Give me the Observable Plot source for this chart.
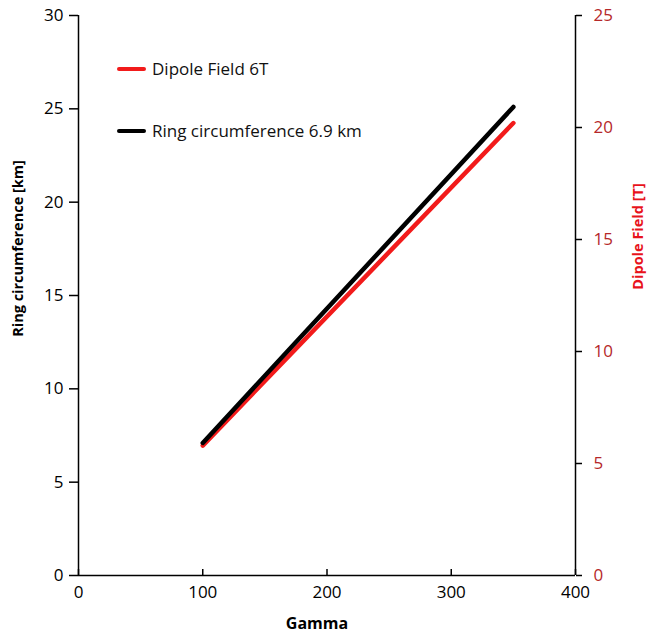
<!DOCTYPE html>
<html><head><meta charset="utf-8">
<script src="https://cdn.jsdelivr.net/npm/d3@7"></script>
<script src="https://cdn.jsdelivr.net/npm/@observablehq/plot@0.6"></script>
<style>
body{margin:0;background:#fff;font-family:"Open Sans",sans-serif;}
#wrap{position:relative;width:650px;height:640px;}
.leg{position:absolute;left:117px;display:flex;align-items:center;font-size:17px;color:#111;line-height:20px;}
.leg .sw{display:inline-block;width:29px;height:4px;border-radius:2px;margin-right:6px;}
</style></head>
<body><div id="wrap"></div>
<script>
const gamma = [100, 350];
const circumferenceKm = [7.1, 25.1];
const dipoleFieldT = [5.8, 20.2];
const xTicks = [0, 100, 200, 300, 400];
const leftTicks = [0, 5, 10, 15, 20, 25, 30];
const rightTicks = [0, 5, 10, 15, 20, 25];
const seriesNames = ["Dipole Field 6T", "Ring circumference 6.9 km"];
const seriesColors = ["#f21b1b", "#000000"];
const leftMax = 30, rightMax = 25;
const k = leftMax / rightMax;

const ring = gamma.map((g, i) => ({g, v: circumferenceKm[i]}));
const dipole = gamma.map((g, i) => ({g, v: dipoleFieldT[i] * k}));

const chart = Plot.plot({
  width: 650, height: 640,
  marginLeft: 78, marginRight: 75, marginTop: 15, marginBottom: 65,
  style: {fontFamily: "'Open Sans', sans-serif", fontSize: "17px", color: "#000", background: "#fff"},
  x: {domain: [0, 400]},
  y: {domain: [0, leftMax]},
  marks: [
    Plot.ruleX([0, 400], {stroke: "#000", strokeWidth: 1.5}),
    Plot.ruleY([0], {stroke: "#000", strokeWidth: 1.5}),
    Plot.axisX({ticks: xTicks, tickSize: -6, tickPadding: 16, label: null, strokeWidth: 1.5}),
    Plot.axisY({anchor: "left", ticks: leftTicks, tickSize: 9, tickPadding: 6, label: null, strokeWidth: 1.5}),
    Plot.axisY({anchor: "right", ticks: rightTicks.map(t => t * k), tickFormat: d => Math.round(d / k),
      tickSize: 6, tickPadding: 12, label: null, strokeWidth: 1.5, stroke: "#000", fill: "#b5282a"}),
    Plot.line(dipole, {x: "g", y: "v", stroke: seriesColors[0], strokeWidth: 4.5, strokeLinecap: "round"}),
    Plot.line(ring, {x: "g", y: "v", stroke: seriesColors[1], strokeWidth: 4.5, strokeLinecap: "round"}),
    Plot.text(["Gamma"], {text: d => d, frameAnchor: "bottom", textAnchor: "middle", dx: -10, dy: 53, fontWeight: "bold", fontSize: 16}),
    Plot.text(["Ring circumference [km]"], {text: d => d, frameAnchor: "left", textAnchor: "middle", dx: -60, dy: -47, rotate: -90, fontWeight: "bold", fontSize: 14.5}),
    Plot.text(["Dipole Field [T]"], {text: d => d, frameAnchor: "right", textAnchor: "middle", dx: 63, dy: -59, rotate: -90, fontWeight: "bold", fontSize: 14.5, fill: "#e8131b"})
  ]
});
const wrap = document.getElementById("wrap");
wrap.appendChild(chart);
const tops = [59, 121];
seriesNames.forEach((name, i) => {
  const d = document.createElement("div");
  d.className = "leg";
  d.style.top = tops[i] + "px";
  d.innerHTML = `<span class="sw" style="background:${seriesColors[i]}"></span><span>${name}</span>`;
  wrap.appendChild(d);
});
</script>
</body></html>
